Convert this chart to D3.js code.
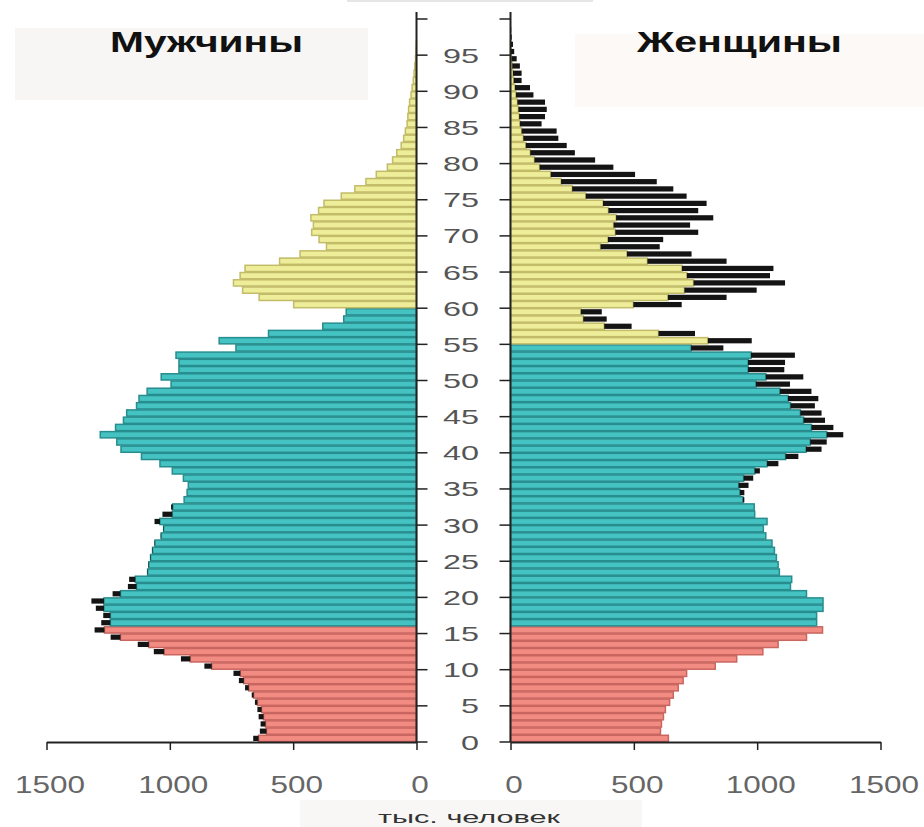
<!DOCTYPE html>
<html><head><meta charset="utf-8">
<script src="https://cdn.jsdelivr.net/npm/d3@7/dist/d3.min.js"></script>
<style>body{margin:0;background:#fff}svg{display:block}</style>
</head><body><svg id="c" width="924" height="827"></svg>
<script>
// ages 0..100, thousands of people
const ages = d3.range(0, 101);
const male = [
  662,635,632,640,645,655,668,695,720,742,
  860,955,1065,1130,1240,1305,1278,1270,1300,1318,
  1232,1170,1165,1092,1087,1080,1072,1062,1037,1027,
  1062,1030,995,942,930,925,945,990,1040,1115,
  1198,1215,1282,1220,1188,1175,1135,1125,1092,995,
  1035,963,963,975,732,800,600,380,295,285,
  498,638,705,742,715,695,555,472,365,395,
  425,418,428,397,375,305,250,205,163,118,
  97,80,62,52,45,38,35,32,28,22,
  18,13,10,7,4,2,1,0,0,0,0
];
const female = [
  640,608,612,620,628,645,660,680,700,714,
  830,917,1023,1085,1200,1265,1241,1241,1267,1267,
  1200,1135,1140,1090,1085,1078,1070,1060,1035,1025,
  1040,990,988,948,948,965,984,1011,1086,1167,
  1261,1282,1349,1309,1275,1261,1234,1248,1220,1133,
  1187,1110,1113,1153,863,978,748,491,390,370,
  694,876,998,1113,1052,1066,876,734,605,619,
  761,728,822,761,795,714,660,593,505,417,
  343,261,228,194,187,126,140,147,140,93,
  79,45,45,38,25,15,10,5,3,1,0
];
const xTicks = [0, 500, 1000, 1500];
const ageTicks = d3.range(0, 101, 5);
const ageLabels = d3.range(0, 96, 5);
const titleMale = "Мужчины";
const titleFemale = "Женщины";
const unitLabel = "тыс. человек";
const childMax = 15, pensionMale = 60, pensionFemale = 55;

const palette = {
  child:   {fill: "#f28b82", stroke: "#c8665f"},
  work:    {fill: "#45c2c2", stroke: "#288d8e"},
  pension: {fill: "#eeee9a", stroke: "#c2bb68"},
  excess:  "#141414"
};

const svg = d3.select("#c");
const y = d3.scaleLinear().domain([0, 100]).range([742, 19]);
const xL = d3.scaleLinear().domain([0, 1500]).range([416.5, 46.5]);
const xR = d3.scaleLinear().domain([0, 1500]).range([510.5, 880.5]);
const band = y(0) - y(1);

// faint label boxes
svg.append("rect").attr("x", 347).attr("y", 0).attr("width", 246).attr("height", 2).attr("fill", "#e6e6e6");
svg.append("rect").attr("x", 15).attr("y", 28).attr("width", 353).attr("height", 72).attr("fill", "#f7f6f4");
svg.append("rect").attr("x", 575).attr("y", 34).attr("width", 349).attr("height", 73).attr("fill", "#fcf9f6");
svg.append("rect").attr("x", 300).attr("y", 800).attr("width", 342).attr("height", 27).attr("fill", "#f8f7f5");

function group(age, sex) {
  if (age <= childMax) return palette.child;
  if (age >= (sex === "m" ? pensionMale : pensionFemale)) return palette.pension;
  return palette.work;
}

const rows = ages.map((a, i) => ({age: a, m: male[i], f: female[i]}));

// male colored bars
svg.append("g").selectAll("rect").data(rows.filter(d => Math.min(d.m, d.f) > 0)).join("rect")
  .attr("x", d => xL(Math.min(d.m, d.f)))
  .attr("y", d => y(d.age + 1) + 0.5)
  .attr("width", d => xL(0) - xL(Math.min(d.m, d.f)))
  .attr("height", band - 1)
  .attr("fill", d => group(d.age, "m").fill)
  .attr("stroke", d => group(d.age, "m").stroke)
  .attr("stroke-width", 1.5);
// male excess
svg.append("g").selectAll("rect").data(rows.filter(d => d.m > d.f)).join("rect")
  .attr("x", d => xL(d.m))
  .attr("y", d => y(d.age + 1) + 1)
  .attr("width", d => xL(d.f) - xL(d.m))
  .attr("height", band - 2)
  .attr("fill", palette.excess);

// female colored bars
svg.append("g").selectAll("rect").data(rows.filter(d => Math.min(d.m, d.f) > 0)).join("rect")
  .attr("x", xR(0))
  .attr("y", d => y(d.age + 1) + 0.5)
  .attr("width", d => xR(Math.min(d.m, d.f)) - xR(0))
  .attr("height", band - 1)
  .attr("fill", d => group(d.age, "f").fill)
  .attr("stroke", d => group(d.age, "f").stroke)
  .attr("stroke-width", 1.5);
// female excess
svg.append("g").selectAll("rect").data(rows.filter(d => d.f > d.m)).join("rect")
  .attr("x", d => xR(d.m))
  .attr("y", d => y(d.age + 1) + 1)
  .attr("width", d => xR(d.f) - xR(d.m))
  .attr("height", band - 2)
  .attr("fill", palette.excess);

// vertical axes
const axisColor = "#222";
[[xL(0), 11], [xR(0), -11]].forEach(([x0, len]) => {
  svg.append("line").attr("x1", x0).attr("x2", x0).attr("y1", y(0)).attr("y2", 12)
    .attr("stroke", axisColor).attr("stroke-width", 2);
  svg.append("g").selectAll("line").data(ageTicks).join("line")
    .attr("x1", x0).attr("x2", x0 + len)
    .attr("y1", d => y(d)).attr("y2", d => y(d))
    .attr("stroke", axisColor).attr("stroke-width", 1.5);
});

// age labels
svg.append("g").selectAll("text").data(ageLabels).join("text")
  .attr("x", 479).attr("y", d => y(d) + 7.5)
  .attr("text-anchor", "end")
  .attr("font-family", "Liberation Sans, Arial, sans-serif")
  .attr("font-size", 21).attr("fill", "#555")
  .attr("textLength", d => String(d).length * 18)
  .attr("lengthAdjust", "spacingAndGlyphs")
  .text(d => d);

// x axes
function xAxis(scale) {
  const g = svg.append("g").attr("transform", `translate(0,${y(0)})`)
    .call(d3.axisBottom(scale).tickValues(xTicks).tickSize(8).tickSizeOuter(0).tickPadding(27).tickFormat(d3.format("d")));
  g.select(".domain").attr("stroke", axisColor).attr("stroke-width", 2);
  g.selectAll(".tick line").attr("stroke", axisColor).attr("stroke-width", 1.5);
  g.selectAll(".tick text")
    .attr("font-family", "Liberation Sans, Arial, sans-serif")
    .attr("font-size", 23).attr("fill", "#666")
    .attr("dx", 3)
    .attr("textLength", d => String(d).length * 17.5)
    .attr("lengthAdjust", "spacingAndGlyphs");
}
xAxis(xL);
xAxis(xR);

// titles
svg.append("text").attr("x", 110).attr("y", 52)
  .attr("font-family", "Liberation Sans, Arial, sans-serif").attr("font-weight", "bold")
  .attr("font-size", 30).attr("fill", "#111")
  .attr("textLength", 193).attr("lengthAdjust", "spacingAndGlyphs").text(titleMale);
svg.append("text").attr("x", 637).attr("y", 52)
  .attr("font-family", "Liberation Sans, Arial, sans-serif").attr("font-weight", "bold")
  .attr("font-size", 30).attr("fill", "#111")
  .attr("textLength", 205).attr("lengthAdjust", "spacingAndGlyphs").text(titleFemale);
svg.append("text").attr("x", 378).attr("y", 823)
  .attr("font-family", "Liberation Sans, Arial, sans-serif")
  .attr("font-size", 17).attr("fill", "#333")
  .attr("textLength", 182).attr("lengthAdjust", "spacingAndGlyphs").text(unitLabel);
</script></body></html>
